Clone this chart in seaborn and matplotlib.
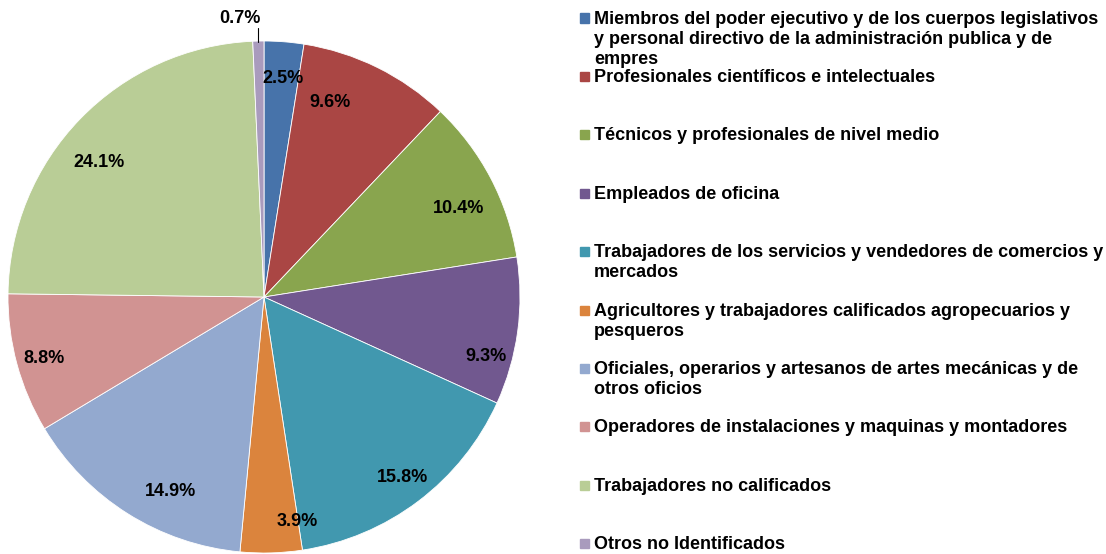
import matplotlib
matplotlib.use("Agg")
import matplotlib.pyplot as plt
import seaborn as sns
import numpy as np

categories = [
    "Miembros del poder ejecutivo y de los cuerpos legislativos\ny personal directivo de la administración publica y de\nempres",
    "Profesionales científicos e intelectuales",
    "Técnicos y profesionales de nivel medio",
    "Empleados de oficina",
    "Trabajadores de los servicios y vendedores de comercios y\nmercados",
    "Agricultores y trabajadores calificados agropecuarios y\npesqueros",
    "Oficiales, operarios y artesanos de artes mecánicas y de\notros oficios",
    "Operadores de instalaciones y maquinas y montadores",
    "Trabajadores no calificados",
    "Otros no Identificados",
]
shares = [2.5, 9.6, 10.4, 9.3, 15.8, 3.9, 14.9, 8.8, 24.1, 0.7]
slice_colors = ["#4773AA", "#AA4644", "#89A54E", "#71588F", "#4198AF",
                "#DB843D", "#93A9CF", "#D19392", "#B9CD96", "#A99BBD"]

# Excel "best fit" label placement differs a bit from the mid-angle; pixel nudges
label_nudge = [(2, 1), (-31, 3), (0, 14), (4, 30), (6, 5),
               (27, 4), (24, 8), (-7, 4), (-7, 19), (0, 0)]

sns.set_theme(style="white")
plt.rcParams['font.family'] = ['Liberation Sans', 'DejaVu Sans']
plt.rcParams['font.weight'] = 'bold'
plt.rcParams['text.color'] = 'black'

W, H = 1106, 554
R = 256  # pie radius in px
fig = plt.figure(figsize=(W / 100, H / 100), dpi=100)
palette = sns.color_palette(slice_colors)

# pie area: centre (264, 297)
ax = fig.add_axes([8 / W, 1 / H, 2 * R / W, 2 * R / H])
wedges, _, autotexts = ax.pie(
    shares, colors=palette, startangle=90, counterclock=False,
    autopct=lambda p: f"{p:.1f}%" if p > 1 else "",
    pctdistance=0.86, radius=1.0,
    wedgeprops=dict(edgecolor="white", linewidth=0.6),
    textprops=dict(fontsize=13, fontweight="bold", color="black"),
)
for t, (dx, dy) in zip(autotexts, label_nudge):
    x, y = t.get_position()
    t.set_position((x + dx / R, y - dy / R))
ax.set_xlim(-1, 1)
ax.set_ylim(-1, 1)
ax.set_aspect("equal")
ax.axis("off")

# small slice label with leader line
w = wedges[-1]
mid = np.deg2rad((w.theta1 + w.theta2) / 2)
x0, y0 = np.cos(mid), np.sin(mid)
ax.plot([x0, x0], [y0 * 0.995, 1.05], color="black", lw=0.8, clip_on=False)
ax.text(x0 - 0.072, 1.086, f"{shares[-1]:.1f}%", ha="center", va="center",
        fontsize=13, fontweight="bold", color="black", clip_on=False)

# legend drawn by hand to keep Excel-like spacing
for i, (lab, col) in enumerate(zip(categories, palette)):
    yc = 18 + i * 58.4
    fig.patches.append(plt.Rectangle((580 / W, 1 - (yc + 4.5) / H), 9 / W, 9 / H,
                                     transform=fig.transFigure, color=col))
    fig.text(594 / W, 1 - (yc - 7.5) / H, lab, ha="left", va="top",
             fontsize=13, fontweight="bold", color="black", linespacing=1.26)

fig.savefig("out.png", dpi=100)
